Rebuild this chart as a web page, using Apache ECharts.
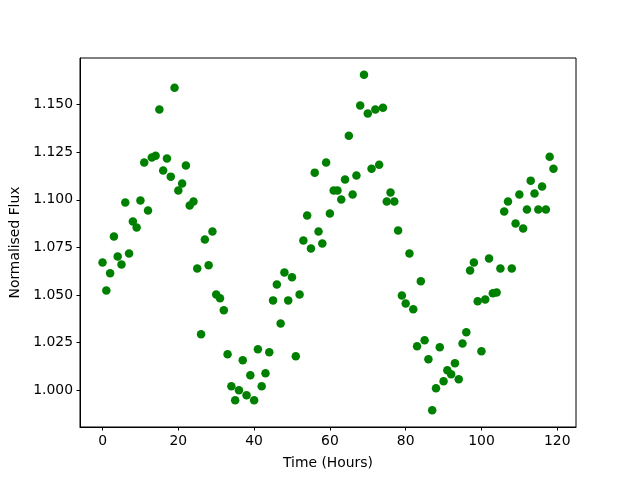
<!DOCTYPE html>
<html>
<head>
<meta charset="utf-8">
<script src="https://cdn.jsdelivr.net/npm/echarts@6/dist/echarts.min.js"></script>
<style>html,body{margin:0;padding:0;background:#fff;}#c{width:640px;height:480px;}</style>
</head>
<body>
<div id="c"></div>
<script>
const hours = Array.from({length:120},(_,i)=>i);
const flux = [
1.0671,1.0524,1.0614,1.0808,1.0703,1.0661,1.0986,1.0718,1.0886,1.0855,
1.0996,1.1196,1.0944,1.1222,1.1232,1.1474,1.1154,1.1217,1.1122,1.1589,
1.1049,1.1086,1.1180,1.0970,1.0991,1.0640,1.0294,1.0792,1.0656,1.0834,
1.0503,1.0483,1.0420,1.0189,1.0021,0.9948,1.0000,1.0157,0.9974,1.0079,
0.9948,1.0215,1.0021,1.0089,1.0199,1.0472,1.0556,1.0351,1.0619,1.0472,
1.0593,1.0178,1.0503,1.0787,1.0918,1.0745,1.1143,1.0834,1.0771,1.1196,
1.0928,1.1049,1.1049,1.1002,1.1107,1.1337,1.1028,1.1128,1.1495,1.1657,
1.1453,1.1164,1.1474,1.1185,1.1484,1.0991,1.1038,1.0991,1.0839,1.0498,
1.0456,1.0718,1.0425,1.0231,1.0572,1.0262,1.0163,0.9895,1.0010,1.0226,
1.0047,1.0105,1.0084,1.0142,1.0058,1.0246,1.0304,1.0629,1.0671,1.0467,
1.0205,1.0477,1.0692,1.0509,1.0514,1.0640,1.0939,1.0991,1.0640,1.0876,
1.1028,1.0850,1.0949,1.1101,1.1033,1.0949,1.1070,1.0949,1.1227,1.1164
];
const xTicks = [0,20,40,60,80,100,120];
const yTicks = [1.000,1.025,1.050,1.075,1.100,1.125,1.150];

const xMin = -5.95, xMax = 124.95;
const yLo = Math.min(...flux), yHi = Math.max(...flux);
const yPad = (yHi - yLo) * 0.05;

const font = 'DejaVu Sans';
const chart = echarts.init(document.getElementById('c'), null, {renderer:'canvas'});
chart.setOption({
  animation:false,
  backgroundColor:'#fff',
  grid:{left:80,right:64,top:58,bottom:53,show:true,borderColor:'#000',borderWidth:1,backgroundColor:'transparent'},
  xAxis:{
    type:'value', min:xMin, max:xMax,
    name:'Time (Hours)', nameLocation:'middle', nameGap:29,
    nameTextStyle:{fontFamily:font,fontSize:13.9,color:'#000'},
    axisLine:{show:true,onZero:false,lineStyle:{color:'#000',width:1}},
    axisTick:{show:true,length:3.5,lineStyle:{color:'#000'},customValues:xTicks},
    axisLabel:{fontFamily:font,fontSize:13.9,color:'#000',margin:7,customValues:xTicks,formatter:v=>String(Math.round(v))},
    splitLine:{show:false}
  },
  yAxis:{
    type:'value', min:yLo-yPad, max:yHi+yPad,
    name:'Normalised Flux', nameLocation:'middle', nameGap:54, nameRotate:90,
    nameTextStyle:{fontFamily:font,fontSize:13.9,color:'#000'},
    axisLine:{show:true,onZero:false,lineStyle:{color:'#000',width:1}},
    axisTick:{show:true,length:3.5,lineStyle:{color:'#000'},customValues:yTicks},
    axisLabel:{fontFamily:font,fontSize:13.9,color:'#000',margin:7,customValues:yTicks,formatter:v=>v.toFixed(3)},
    splitLine:{show:false}
  },
  series:[{
    type:'scatter',
    data:hours.map((h,i)=>[h,flux[i]]),
    symbol:'circle', symbolSize:8.5,
    itemStyle:{color:'#008000',opacity:1}
  }]
});
</script>
</body>
</html>
